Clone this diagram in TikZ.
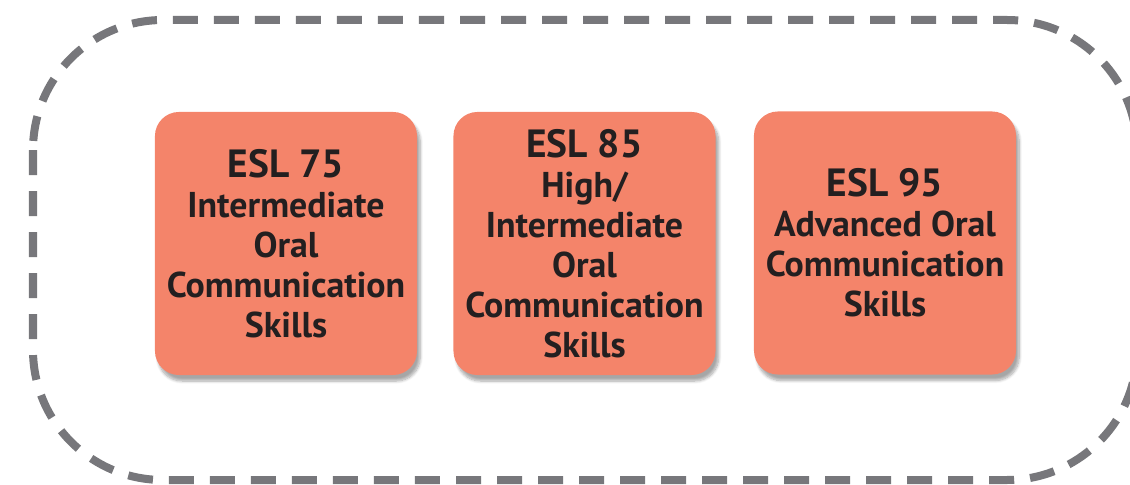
\documentclass[tikz,border=0pt]{standalone}
\usepackage{fontspec}
\setmainfont{PT Sans}
\usetikzlibrary{shadows.blur}

\definecolor{salmon}{HTML}{F4846A}
\definecolor{dashgray}{HTML}{77777B}
\definecolor{ink}{HTML}{231F20}

\newcommand{\eslfont}{\fontsize{28}{32}\selectfont}

\tikzset{
  course/.style={rectangle,rounded corners=0.6cm,fill=salmon,
    minimum width=6.55cm,minimum height=6.575cm,align=center,
    text=ink,font=\bfseries\fontsize{25.5}{28.5}\selectfont,
    blur shadow={shadow xshift=0.08cm,shadow yshift=-0.15cm,
      shadow blur steps=8,shadow opacity=35}},
  frame/.style={draw=dashgray,line width=0.2cm,rounded corners=3.25cm,
    dash pattern=on 0.625cm off 0.4cm}
}

\begin{document}
\begin{tikzpicture}[x=0.025cm,y=-0.025cm]
  \useasboundingbox (0,0) rectangle (1130,485);

  \coordinate (tl) at (33,20);
  \coordinate (br) at (1137,480);
  \draw [frame] (tl) rectangle (br);

  \node [course] (esl75) at (286,243.5)
    {{\eslfont ESL 75}\\Intermediate\\Oral\\Communication\\Skills};
  \node [course] (esl85) at (584.5,243.5)
    {{\eslfont ESL 85}\\High/\\Intermediate\\Oral\\Communication\\Skills};
  \node [course] (esl95) at (885,243)
    {{\eslfont ESL 95}\\Advanced Oral\\Communication\\Skills};
\end{tikzpicture}
\end{document}
